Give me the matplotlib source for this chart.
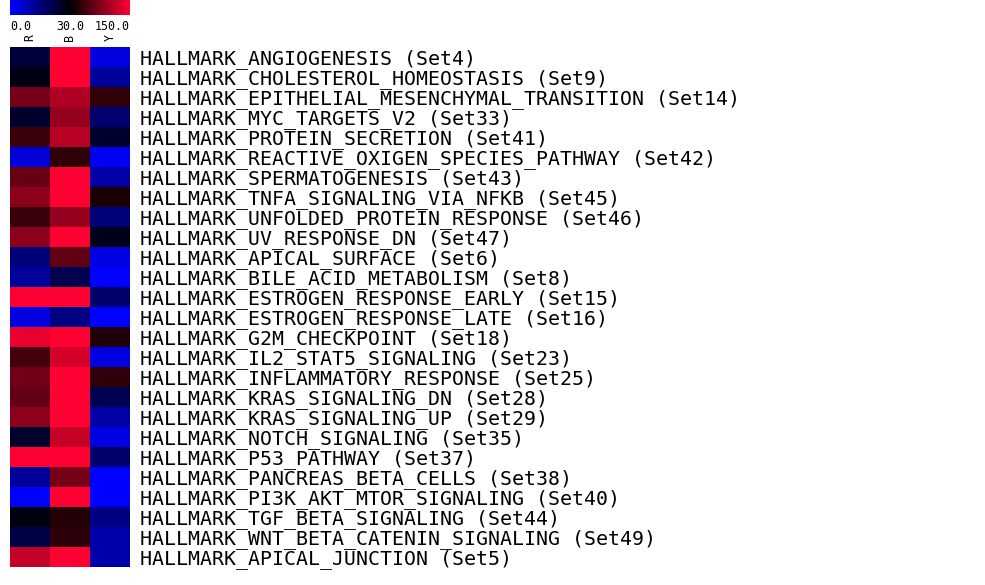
import numpy as np
import matplotlib
matplotlib.use('Agg')
import matplotlib.pyplot as plt
from matplotlib.colors import LinearSegmentedColormap

# gene set labels (top to bottom)
gene_sets = [
    'HALLMARK_ANGIOGENESIS (Set4)',
    'HALLMARK_CHOLESTEROL_HOMEOSTASIS (Set9)',
    'HALLMARK_EPITHELIAL_MESENCHYMAL_TRANSITION (Set14)',
    'HALLMARK_MYC_TARGETS_V2 (Set33)',
    'HALLMARK_PROTEIN_SECRETION (Set41)',
    'HALLMARK_REACTIVE_OXIGEN_SPECIES_PATHWAY (Set42)',
    'HALLMARK_SPERMATOGENESIS (Set43)',
    'HALLMARK_TNFA_SIGNALING_VIA_NFKB (Set45)',
    'HALLMARK_UNFOLDED_PROTEIN_RESPONSE (Set46)',
    'HALLMARK_UV_RESPONSE_DN (Set47)',
    'HALLMARK_APICAL_SURFACE (Set6)',
    'HALLMARK_BILE_ACID_METABOLISM (Set8)',
    'HALLMARK_ESTROGEN_RESPONSE_EARLY (Set15)',
    'HALLMARK_ESTROGEN_RESPONSE_LATE (Set16)',
    'HALLMARK_G2M_CHECKPOINT (Set18)',
    'HALLMARK_IL2_STAT5_SIGNALING (Set23)',
    'HALLMARK_INFLAMMATORY_RESPONSE (Set25)',
    'HALLMARK_KRAS_SIGNALING_DN (Set28)',
    'HALLMARK_KRAS_SIGNALING_UP (Set29)',
    'HALLMARK_NOTCH_SIGNALING (Set35)',
    'HALLMARK_P53_PATHWAY (Set37)',
    'HALLMARK_PANCREAS_BETA_CELLS (Set38)',
    'HALLMARK_PI3K_AKT_MTOR_SIGNALING (Set40)',
    'HALLMARK_TGF_BETA_SIGNALING (Set44)',
    'HALLMARK_WNT_BETA_CATENIN_SIGNALING (Set49)',
    'HALLMARK_APICAL_JUNCTION (Set5)',
]

columns = ['R', 'B', 'Y']

# values (0 = blue, 30 = black, 150 = red)
r_vals = [23, 28, 86, 25, 56, 5, 79, 96, 56, 96, 16, 12, 150,
          4, 140, 61, 84, 77, 96, 25, 150, 12, 0, 28.6, 22, 122]
b_vals = [150, 150, 112, 100, 117, 53, 150, 150, 100, 150, 75, 21, 150,
          15, 150, 129, 150, 150, 150, 122, 150, 86, 150, 46, 51, 150]
y_vals = [4, 12, 53, 17, 25, 2, 11, 42, 16, 27, 4, 0, 18,
          0, 44, 4, 53, 21, 11, 4, 18, 0, 0, 15, 10, 10]

scale_ticks = [0.0, 30.0, 150.0]

blue = '#0000ff'
black = '#000000'
red = '#ff0033'

# heatmap colours: black sits at 30 on a 0..150 scale
cmap_vals = LinearSegmentedColormap.from_list(
    'bbr', [(0.0, blue), (scale_ticks[1] / scale_ticks[2], black), (1.0, red)])
# the colour key is drawn with evenly spaced stops
cmap_key = LinearSegmentedColormap.from_list(
    'bbr_key', [(0.0, blue), (0.5, black), (1.0, red)])

W, H = 985, 585
fig = plt.figure(figsize=(W / 100, H / 100), dpi=100)

# colour key at the top
ax_key = fig.add_axes([10 / W, 1 - 15 / H, 120 / W, 15 / H])
ax_key.imshow(np.linspace(0, 1, 256)[None, :], cmap=cmap_key, aspect='auto')
ax_key.axis('off')
fs_small = 8.4
key_y = 1 - 20 / H
fig.text(10 / W, key_y, f'{scale_ticks[0]:.1f}', ha='left', va='top',
         family='DejaVu Sans Mono', fontsize=fs_small)
fig.text(70 / W, key_y, f'{scale_ticks[1]:.1f}', ha='center', va='top',
         family='DejaVu Sans Mono', fontsize=fs_small)
fig.text(130 / W, key_y, f'{scale_ticks[2]:.1f}', ha='right', va='top',
         family='DejaVu Sans Mono', fontsize=fs_small)

# heatmap
data = np.array([r_vals, b_vals, y_vals]).T
ax = fig.add_axes([10 / W, 1 - 567 / H, 120 / W, 520 / H])
ax.imshow(data, cmap=cmap_vals, vmin=0, vmax=150, aspect='auto',
          interpolation='nearest')
for s in ax.spines.values():
    s.set_visible(False)

ax.set_xticks(range(len(columns)))
ax.set_xticklabels(columns, rotation=90, family='DejaVu Sans Mono',
                   fontsize=fs_small)
ax.xaxis.tick_top()
ax.tick_params(axis='x', length=0, pad=4)

ax.set_yticks(range(len(gene_sets)))
ax.set_yticklabels(gene_sets, family='DejaVu Sans Mono', fontsize=14.3)
ax.yaxis.tick_right()
ax.tick_params(axis='y', length=0, pad=7)

fig.savefig('out.png', dpi=100)
